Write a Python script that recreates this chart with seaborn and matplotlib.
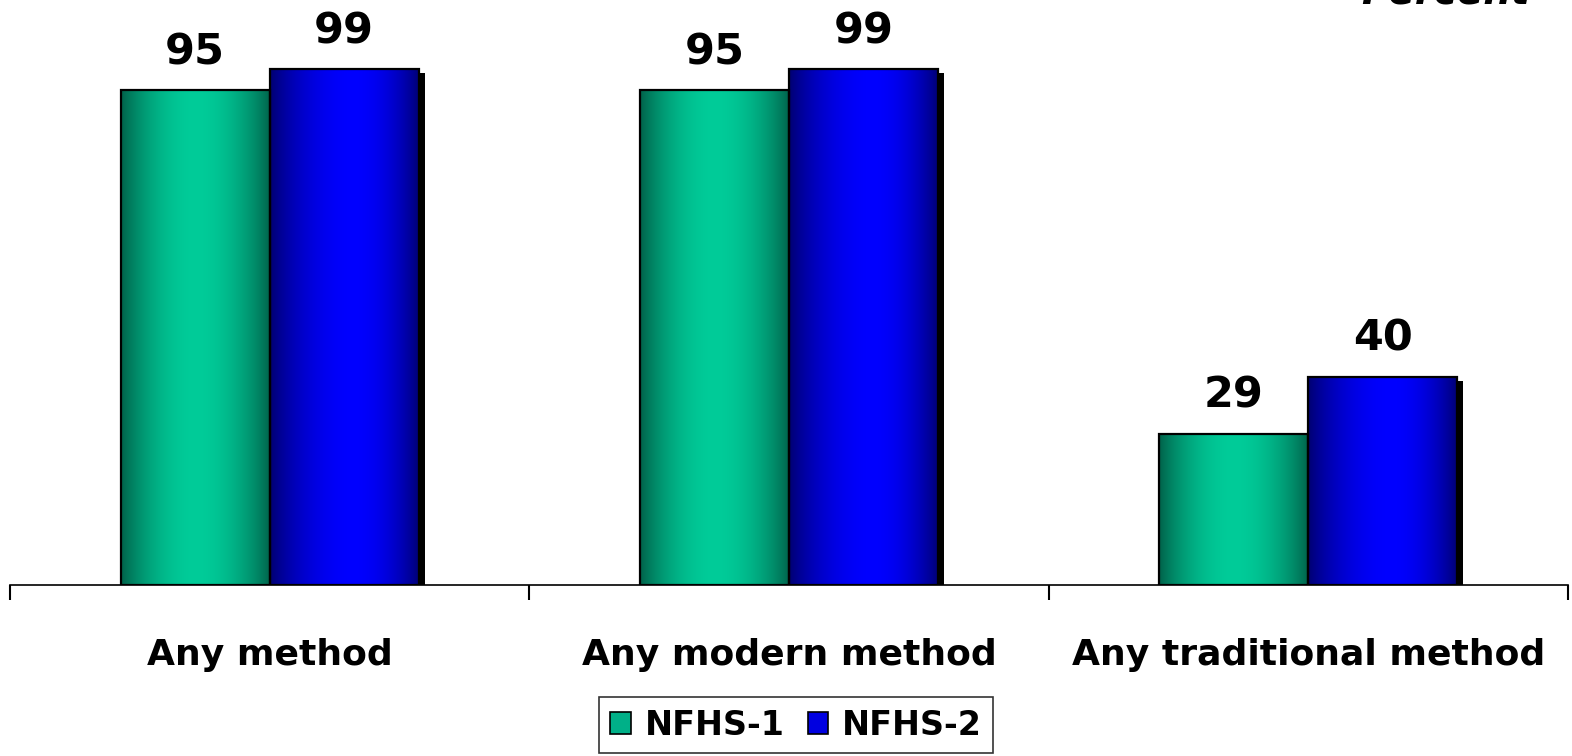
import numpy as np
import pandas as pd
import matplotlib
matplotlib.use("Agg")
import matplotlib.pyplot as plt
import matplotlib.transforms as mtransforms
from matplotlib.patches import Rectangle, Patch
import seaborn as sns

# ---- data ----
categories = ["Any method", "Any modern method", "Any traditional method"]
series_names = ["NFHS-1", "NFHS-2"]
nfhs1 = [95, 95, 29]
nfhs2 = [99, 99, 40]
unit_label = "Percent"

df = pd.DataFrame({
    "Method": categories * 2,
    "Survey": [series_names[0]] * 3 + [series_names[1]] * 3,
    "Value": nfhs1 + nfhs2,
})

sns.set_theme(style="white")
plt.rcParams["font.family"] = ["DejaVu Sans"]
plt.rcParams["text.color"] = "black"
plt.rcParams["legend.labelcolor"] = "black"

W, H, DPI = 1572, 756, 100
fig = plt.figure(figsize=(W / DPI, H / DPI), dpi=DPI)
ax = fig.add_axes([10 / W, (H - 585) / H, 1558 / W, 585 / H])

mid_colors = {"NFHS-1": "#00B088", "NFHS-2": "#0000E0"}
sns.barplot(data=df, x="Method", y="Value", hue="Survey", order=categories,
            hue_order=series_names, palette=mid_colors, width=0.574,
            ax=ax, legend=False, edgecolor="black", linewidth=1.6, zorder=3)

ax.set_xlim(-0.5, 2.5)
ax.set_ylim(0, 585 / 5.21)

# gradient definitions (dark edge, bright peak, peak position)
grads = {
    "NFHS-1": (np.array([0, 95, 72]) / 255, np.array([0, 204, 153]) / 255, 0.50),
    "NFHS-2": (np.array([0, 0, 110]) / 255, np.array([0, 0, 255]) / 255, 0.56),
}

shadow_tr = ax.transData + mtransforms.ScaledTranslation(6 / DPI, -4 / DPI, fig.dpi_scale_trans)

patches = list(ax.patches)
n_cat = len(categories)
for i, p in enumerate(patches):
    s = series_names[i // n_cat]
    dark, bright, peak = grads[s]
    x0, w, h = p.get_x(), p.get_width(), p.get_height()
    xs = np.linspace(0, 1, 200)
    d = np.where(xs < peak, (peak - xs) / peak, (xs - peak) / (1 - peak))
    wgt = np.cos(np.pi / 2 * np.clip(d, 0, 1)) ** 0.8
    img = dark[None, :] + (bright - dark)[None, :] * wgt[:, None]
    ax.imshow(img[None, :, :], extent=[x0, x0 + w, 0, h], aspect="auto",
              zorder=2.8, interpolation="bilinear")
    p.set_facecolor("none")
    ax.add_patch(Rectangle((x0, 0), w, h, facecolor="black", edgecolor="none",
                           transform=shadow_tr, zorder=1.5))

ax.set_xlim(-0.5, 2.5)
ax.set_ylim(0, 585 / 5.21)

# value labels
for p in patches:
    ax.annotate(f"{p.get_height():.0f}", (p.get_x() + p.get_width() / 2, p.get_height()),
                xytext=(0, 26 * 72 / DPI), textcoords="offset points",
                ha="center", va="baseline", fontsize=31, fontweight="bold",
                color="black", zorder=5)

# axes styling
for side in ["left", "top", "right"]:
    ax.spines[side].set_visible(False)
ax.spines["bottom"].set_color("black")
ax.spines["bottom"].set_linewidth(1.2)
ax.set_yticks([])
ax.set_xlabel("")
ax.set_ylabel("")
ax.set_xticks(range(len(categories)))
ax.set_xticklabels(categories, fontsize=26, fontweight="bold", color="black")
ax.tick_params(axis="x", which="major", length=0, pad=38, labelcolor="black")
ax.set_xticks([-0.5, 0.5, 1.5, 2.5], minor=True)
ax.tick_params(axis="x", which="minor", length=11, width=1.5, color="black",
               direction="out", bottom=True)

# unit label, mostly cut off at the top (as in the reference)
fig.text(1445 / W, 1 - 4 / H, unit_label, ha="center", va="baseline",
         fontsize=28, fontweight="bold", fontstyle="italic", color="black")

# legend
handles = [Patch(facecolor=mid_colors[s], edgecolor="black", linewidth=1.2) for s in series_names]
leg = fig.legend(handles, series_names, loc="upper center",
                 bbox_to_anchor=(796 / W, 1 - 697 / H), ncol=2,
                 prop={"size": 24, "weight": "bold"}, frameon=True, fancybox=False,
                 handlelength=0.62, handleheight=0.62, handletextpad=0.4,
                 columnspacing=0.7, borderpad=0.35, borderaxespad=0,
                 labelcolor="black")
leg.get_frame().set_edgecolor("black")
leg.get_frame().set_linewidth(1.2)

fig.savefig("out.png", dpi=DPI, facecolor="white")
